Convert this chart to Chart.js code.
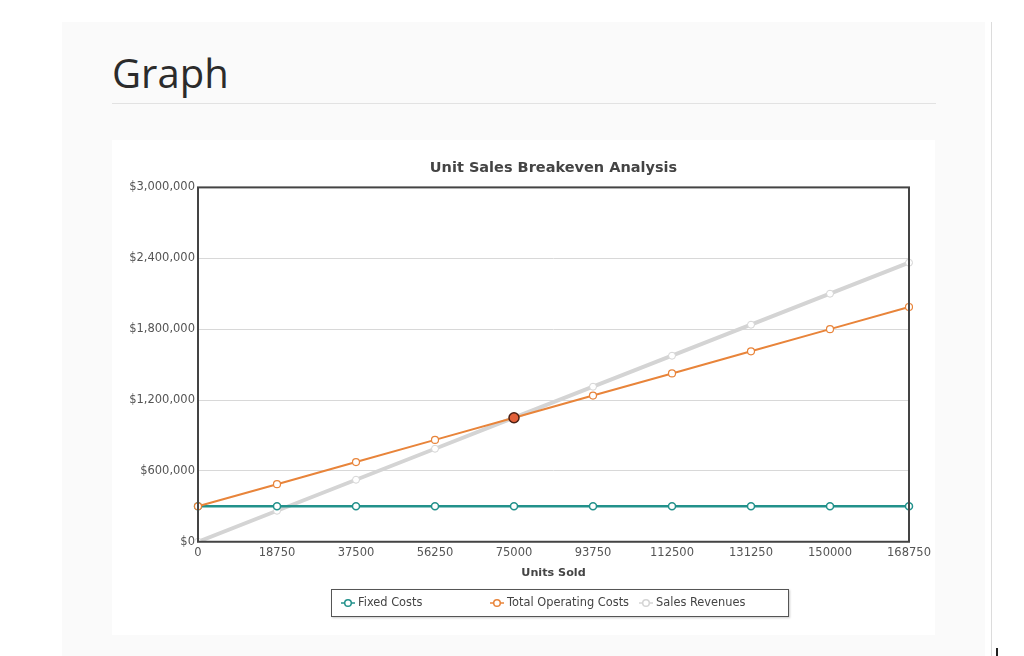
<!DOCTYPE html>
<html>
<head>
<meta charset="utf-8">
<script src="https://cdn.jsdelivr.net/npm/chart.js@4.4.1/dist/chart.umd.min.js"></script>
<style>
	html, body { margin: 0; padding: 0; background: #fff; }
	body { width: 1024px; height: 656px; position: relative; overflow: hidden; font-family: 'DejaVu Sans', sans-serif; }
	.panel { position: absolute; left: 62px; top: 22px; width: 923px; height: 634px; background: #fafafa; }
	.heading { position: absolute; left: 112px; top: 46px; margin: 0; font: 400 40px 'Open Sans', sans-serif; color: #2b2b2b; line-height: 54px; }
	.rule { position: absolute; left: 112px; top: 103px; width: 824px; height: 1px; background: #e2e2e2; }
	.chart-box { position: absolute; left: 112px; top: 140px; width: 823px; height: 495px; background: #fff; }
	#breakeven { position: absolute; left: 112px; top: 140px; }
	.legend { position: absolute; left: 331px; top: 589px; width: 456px; height: 26px; border: 1px solid #555; box-shadow: 1px 1px 2px #ccc; background: #fff; }
	.legend span { position: absolute; top: 5px; font-size: 11.4px; color: #444; white-space: nowrap; }
	.legend svg { vertical-align: -2px; margin-right: 3px; }
	.vline { position: absolute; left: 991px; top: 22px; width: 1px; height: 634px; background: #dcdcdc; }
	.mark { position: absolute; left: 996px; top: 648px; width: 2px; height: 8px; background: #222; }
</style>
</head>
<body>
<div class="panel"></div>
<h1 class="heading">Graph</h1>
<div class="rule"></div>
<div class="vline"></div>
<div class="mark"></div>
<div class="chart-box"></div>
<canvas id="breakeven" width="883" height="495"></canvas>
<div class="legend" id="legend"></div>
<script>
// units sold on x axis
const unitsSold = [0, 18750, 37500, 56250, 75000, 93750, 112500, 131250, 150000, 168750];
const fixedCosts = [300000, 300000, 300000, 300000, 300000, 300000, 300000, 300000, 300000, 300000];
const totalOperatingCosts = [300000, 487500, 675000, 862500, 1050000, 1237500, 1425000, 1612500, 1800000, 1987500];
const salesRevenues = [0, 262500, 525000, 787500, 1050000, 1312500, 1575000, 1837500, 2100000, 2362500];
// breakeven marker, only at 75000 units
const breakevenPoint = [null, null, null, null, 1050000, null, null, null, null, null];

const tickFont = { family: 'DejaVu Sans', size: 11.5 };

// dark frame round the plot area
const plotFrame = {
	id: 'plotFrame',
	afterDatasetsDraw(chart) {
		const { ctx, chartArea: a } = chart;
		ctx.save();
		ctx.strokeStyle = '#444';
		ctx.lineWidth = 2;
		ctx.strokeRect(a.left, a.top, a.right - a.left, a.bottom - a.top);
		ctx.restore();
	},
};

const chart = new Chart(document.getElementById('breakeven'), {
	type: 'line',
	data: {
		labels: unitsSold,
		datasets: [
			{
				label: 'Fixed Costs',
				data: fixedCosts,
				borderColor: '#22918b',
				backgroundColor: '#fff',
				borderWidth: 2.5,
				pointRadius: 3.5,
				pointBorderWidth: 1.5,
				order: 3,
			},
			{
				label: 'Total Operating Costs',
				data: totalOperatingCosts,
				borderColor: '#e8843a',
				backgroundColor: '#fff',
				borderWidth: 2,
				pointRadius: 3.5,
				pointBorderWidth: 1.2,
				order: 2,
			},
			{
				label: 'Sales Revenues',
				data: salesRevenues,
				borderColor: '#d4d4d4',
				backgroundColor: '#fff',
				borderWidth: 4,
				pointRadius: 3.5,
				pointBorderWidth: 1,
				order: 4,
			},
			{
				label: 'Breakeven',
				data: breakevenPoint,
				showLine: false,
				borderColor: '#4a2015',
				backgroundColor: '#e2603a',
				pointRadius: 5,
				pointBorderWidth: 1.5,
				order: 0,
			},
		],
	},
	options: {
		responsive: false,
		animation: false,
		layout: { padding: { left: 0, right: 0, top: 0, bottom: 55 } },
		plugins: {
			legend: { display: false },
			tooltip: { enabled: false },
			title: {
				display: true,
				text: 'Unit Sales Breakeven Analysis',
				color: '#444',
				font: { family: 'DejaVu Sans', size: 14.5, weight: 'bold' },
				padding: { top: 20, bottom: 10 },
			},
		},
		scales: {
			x: {
				grid: { display: false, drawTicks: false },
				border: { display: false },
				ticks: { color: '#555', font: tickFont, maxRotation: 0, autoSkip: false, padding: 4 },
				title: {
					display: true,
					text: 'Units Sold',
					color: '#444',
					font: { family: 'DejaVu Sans', size: 11.2, weight: 'bold' },
					padding: { top: 3, bottom: 0 },
				},
			},
			y: {
				min: 0,
				max: 3000000,
				border: { display: false },
				grid: { color: '#d8d8d8', drawTicks: false },
				ticks: {
					stepSize: 600000,
					color: '#555',
					font: tickFont,
					padding: 3,
					callback: (v) => '$' + v.toLocaleString('en-US'),
				},
				afterFit: (scale) => { scale.width = 86; },
			},
			// empty right axis, same width as the left one, so the title centres over the plot
			yRight: {
				position: 'right',
				display: true,
				grid: { display: false },
				border: { display: false },
				ticks: { display: false },
				afterFit: (scale) => { scale.width = 86; },
			},
		},
	},
	plugins: [plotFrame],
});

// legend in a box under the chart
const legend = document.getElementById('legend');
const legendX = [9, 158, 307];
chart.data.datasets.slice(0, 3).forEach((ds, i) => {
	const item = document.createElement('span');
	item.style.left = legendX[i] + 'px';
	item.innerHTML = `<svg width="14" height="10"><line x1="0" y1="5" x2="14" y2="5" stroke="${ds.borderColor}" stroke-width="1.5"/><circle cx="7" cy="5" r="3.3" fill="#fff" stroke="${ds.borderColor}" stroke-width="1.5"/></svg>${ds.label}`;
	legend.appendChild(item);
});
</script>
</body>
</html>
